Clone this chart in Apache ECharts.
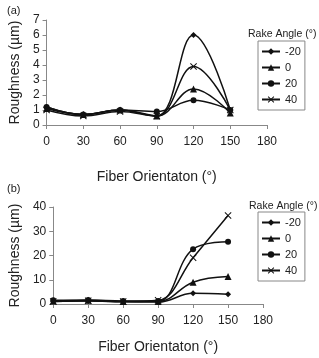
<!DOCTYPE html>
<html>
<head>
<meta charset="utf-8">
<title>Roughness vs fiber orientation</title>
<script src="https://cdn.jsdelivr.net/npm/echarts@6/dist/echarts.min.js"></script>
<style>
  html, body { margin: 0; padding: 0; background: #fff; }
  #container { width: 319px; height: 358px; }
</style>
</head>
<body>
<div id="container"></div>
<script>
    // fiber orientation (deg)
    var orient = [0, 30, 60, 90, 120, 150];
    var rakeNames = ['-20', '0', '20', '40'];

    // panel (a)
    var aM20 = [1.2, 0.7, 1.0, 0.6, 6.0, 1.0];
    var a0   = [1.1, 0.7, 1.0, 0.6, 2.4, 0.8];
    var a20  = [1.2, 0.7, 1.0, 0.9, 1.65, 1.0];
    var a40  = [1.0, 0.6, 0.9, 0.6, 3.9, 1.0];

    // panel (b)
    var bM20 = [1.0, 1.2, 0.9, 0.8, 4.4, 4.0];
    var b0   = [1.2, 1.5, 1.0, 1.0, 9.0, 11.3];
    var b20  = [1.5, 1.6, 1.2, 1.2, 22.6, 25.7];
    var b40  = [1.0, 1.3, 1.0, 1.5, 19.1, 36.5];

    var symbols = ['diamond', 'triangle', 'circle',
        'path://M0,1L1,0L5,4L9,0L10,1L6,5L10,9L9,10L5,6L1,10L0,9L4,5Z'];
    var sizes = [6, 7, 6, 7];
    var fontFam = 'Liberation Sans, Arial, sans-serif';

    function pairs(vals) {
        var out = [];
        for (var i = 0; i < orient.length; i++) out.push([orient[i], vals[i]]);
        return out;
    }

    function mkSeries(sets, idx) {
        return sets.map(function (vals, k) {
            return {
                name: rakeNames[k],
                type: 'line',
                xAxisIndex: idx,
                yAxisIndex: idx,
                data: pairs(vals),
                smooth: 0.4,
                symbol: symbols[k],
                symbolSize: sizes[k],
                lineStyle: { color: '#111', width: 1.5 },
                itemStyle: { color: '#111' },
                animation: false
            };
        });
    }

    function xAx(idx, gap) {
        return {
            type: 'value', gridIndex: idx, min: 0, max: 180, interval: 30,
            name: 'Fiber Orientaton (°)', nameLocation: 'middle', nameGap: gap,
            nameTextStyle: { fontSize: 14, color: '#222', fontFamily: fontFam },
            axisLine: { lineStyle: { color: '#888' } },
            axisTick: { lineStyle: { color: '#888' }, length: 4 },
            axisLabel: { fontSize: 12, color: '#222', fontFamily: fontFam, margin: 11 },
            splitLine: { show: false }
        };
    }

    function yAx(idx, max, step) {
        return {
            type: 'value', gridIndex: idx, min: 0, max: max, interval: step,
            name: 'Roughness (µm)', nameLocation: 'middle', nameGap: 24,
            nameTextStyle: { fontSize: 14, color: '#222', fontFamily: fontFam },
            axisLine: { show: true, lineStyle: { color: '#888' } },
            axisTick: { show: true, lineStyle: { color: '#888' }, length: 4 },
            axisLabel: { fontSize: 12, color: '#222', fontFamily: fontFam, margin: 7 },
            splitLine: { show: false }
        };
    }

    function legend(top) {
        return {
            orient: 'vertical', left: 258, top: top,
            data: rakeNames,
            itemWidth: 18, itemHeight: 8, itemGap: 5,
            padding: [5, 4, 5, 3],
            borderColor: '#888', borderWidth: 1,
            textStyle: { fontSize: 11, color: '#222', fontFamily: fontFam },
            selectedMode: false
        };
    }

    var myChart = echarts.init(document.getElementById('container'));
    var option = {
        backgroundColor: '#fff',
        title: [
            { text: '(a)', left: 2, top: 0, textStyle: { fontSize: 11, fontWeight: 'normal', color: '#222', fontFamily: fontFam } },
            { text: '(b)', left: 2, top: 178, textStyle: { fontSize: 11, fontWeight: 'normal', color: '#222', fontFamily: fontFam } },
            { text: 'Rake Angle (°)', left: 243, top: 24, textStyle: { fontSize: 10.5, fontWeight: 'normal', color: '#222', fontFamily: fontFam } },
            { text: 'Rake Angle (°)', left: 244, top: 196, textStyle: { fontSize: 10.5, fontWeight: 'normal', color: '#222', fontFamily: fontFam } }
        ],
        legend: [legend(41), legend(212)],
        grid: [
            { left: 42, top: 20, width: 225, height: 105 },
            { left: 43, top: 207, width: 220, height: 97 }
        ],
        xAxis: [xAx(0, 45), xAx(1, 36)],
        yAxis: [yAx(0, 7, 1), yAx(1, 40, 10)],
        series: mkSeries([aM20, a0, a20, a40], 0).concat(mkSeries([bM20, b0, b20, b40], 1))
    };
    myChart.setOption(option);
</script>
</body>
</html>
